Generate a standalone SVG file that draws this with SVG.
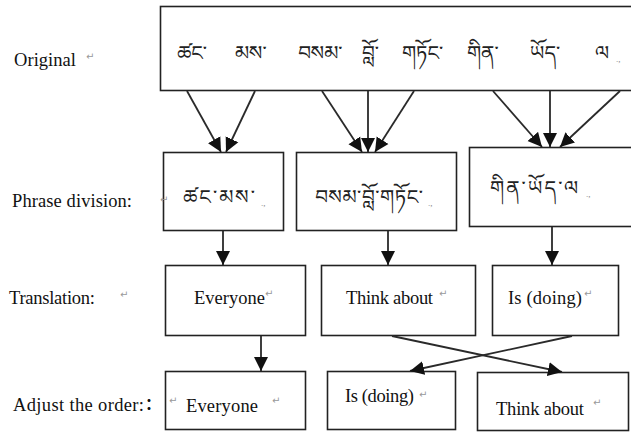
<svg xmlns="http://www.w3.org/2000/svg" width="631" height="432" viewBox="0 0 631 432">
<style>
.box{fill:#fff;stroke:#222;stroke-width:1.6}
.lbl{font-family:"Liberation Serif","Times New Roman",serif;fill:#111;font-size:18.5px}
.tib{font-family:"Noto Serif Tibetan","Noto Sans Tibetan","Jomolhari","Tibetan Machine Uni","Microsoft Himalaya",serif;fill:#222;font-size:20px}
.ret{font-family:"DejaVu Sans",sans-serif;fill:#999;font-size:10px}
.mk{font-family:"Liberation Serif",serif;fill:#888;font-size:9px}
.conn line{stroke:#2a2a2a;stroke-width:1.8;marker-end:url(#ah)}
</style>
<defs>
<marker id="ah" markerUnits="userSpaceOnUse" markerWidth="16" markerHeight="16" refX="14" refY="7.5" orient="auto">
<path d="M0,0.5 L14,7.5 L0,14.5 z" fill="#111"/>
</marker>
</defs>
<rect width="631" height="432" fill="#fff"/>
<g id="labels">
<text class="lbl" x="14" y="66" textLength="62">Original</text>
<text class="ret" x="86" y="60">↵</text>
<text class="lbl" x="12" y="207" textLength="120">Phrase division:</text>
<text class="lbl" x="9" y="304" textLength="86">Translation:</text>
<text class="ret" x="120" y="298">↵</text>
<text class="lbl" x="13" y="411" textLength="131">Adjust the order:</text>
<text x="145" y="410" font-size="16" font-weight="bold" font-family="Noto Sans CJK SC, sans-serif" fill="#111">：</text>
</g>
<g id="original">
<rect class="box" x="160.5" y="6.5" width="480" height="84"/>
<text class="tib" y="60"><tspan x="177">ཚང་</tspan><tspan x="235">མས་</tspan><tspan x="298">བསམ་</tspan><tspan x="362">བློ་</tspan><tspan x="402">གཏོང་</tspan><tspan x="467">གིན་</tspan><tspan x="530">ཡོད་</tspan><tspan x="595">ལ</tspan></text>
<text class="mk" x="616" y="62">.,</text>
</g>
<g id="phrase1">
<rect class="box" x="163.5" y="152.5" width="120" height="78"/>
<text class="ret" x="160" y="203">↵</text>
<text class="tib" x="183" y="204" textLength="72">ཚང་མས་</text>
<text class="mk" x="261" y="206">.,</text>
</g>
<g id="phrase2">
<rect class="box" x="296.5" y="152.5" width="160" height="78"/>
<text class="tib" x="315" y="204" textLength="108">བསམ་བློ་གཏོང་</text>
<text class="mk" x="428" y="206">.,</text>
</g>
<g id="phrase3">
<rect class="box" x="469.5" y="147.5" width="170" height="79"/>
<text class="tib" x="490" y="195" textLength="88">གིན་ཡོད་ལ</text>
<text class="mk" x="586" y="197">.,</text>
</g>
<g id="tr1">
<rect class="box" x="165.5" y="265.5" width="140" height="70"/>
<text class="lbl" x="194" y="304" textLength="71">Everyone</text>
<text class="ret" x="265" y="297">↵</text>
</g>
<g id="tr2">
<rect class="box" x="321.5" y="265.5" width="154" height="70"/>
<text class="lbl" x="346" y="304" textLength="87">Think about</text>
<text class="ret" x="439" y="297">↵</text>
</g>
<g id="tr3">
<rect class="box" x="492.5" y="265.5" width="126" height="70"/>
<text class="lbl" x="508" y="304" textLength="74">Is (doing)</text>
<text class="ret" x="584" y="297">↵</text>
</g>
<g id="ad1">
<rect class="box" x="165.5" y="371.5" width="140" height="58"/>
<text class="ret" x="169" y="404">↵</text>
<text class="lbl" x="186" y="412" textLength="72">Everyone</text>
<text class="ret" x="272" y="404">↵</text>
</g>
<g id="ad2">
<rect class="box" x="327.5" y="371.5" width="128" height="58"/>
<text class="lbl" x="345" y="402" textLength="69">Is (doing)</text>
<text class="ret" x="419" y="398">↵</text>
</g>
<g id="ad3">
<rect class="box" x="477.5" y="372.5" width="151" height="58"/>
<text class="lbl" x="496" y="415" textLength="88">Think about</text>
<text class="ret" x="593" y="406">↵</text>
</g>
<g id="connectors" class="conn">
<line x1="187" y1="91" x2="221" y2="152"/>
<line x1="255" y1="91" x2="226" y2="152"/>
<line x1="322" y1="91" x2="362" y2="152"/>
<line x1="368" y1="91" x2="368" y2="152"/>
<line x1="414" y1="91" x2="375" y2="152"/>
<line x1="493" y1="91" x2="542" y2="147"/>
<line x1="550" y1="91" x2="550" y2="147"/>
<line x1="620" y1="91" x2="560" y2="147"/>
<line x1="223" y1="231" x2="223" y2="265"/>
<line x1="388" y1="231" x2="388" y2="265"/>
<line x1="552" y1="227" x2="552" y2="265"/>
<line x1="261" y1="336" x2="261" y2="371"/>
<line x1="392" y1="336" x2="562" y2="372"/>
<line x1="572" y1="336" x2="410" y2="371"/>
</g>
</svg>
